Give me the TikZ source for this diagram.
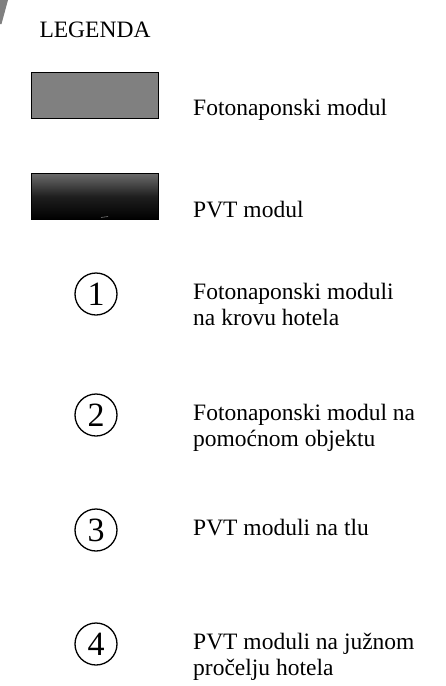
\documentclass[tikz,border=0pt]{standalone}
\usepackage{fontspec}
\setmainfont{Liberation Serif}
\usetikzlibrary{positioning}

\tikzset{
	legtext/.style={anchor=north west, align=left, inner sep=0pt, font=\fontsize{23.5}{25.5}\selectfont},
	modulbox/.style={draw=black, line width=1.8pt, minimum width=127pt, minimum height=46pt, inner sep=0pt, anchor=north west},
	brojkrug/.style={circle, draw=black, line width=1.3pt, minimum size=42pt, inner sep=0pt, font=\fontsize{34}{34}\selectfont}
}

\begin{document}
\begin{tikzpicture}[x=1pt,y=-1pt]
		\useasboundingbox (0,0) rectangle (445,686);
		%ostatak slike lijevo gore
		\fill[gray] (0,0) -- (8,0) -- (1.5,24) -- (0,24) -- cycle;
		
		\node[anchor=base, inner sep=0pt, font=\fontsize{23.5}{25.5}\selectfont] (naslov) at (95,37) {LEGENDA};
		
		%moduli
		\node[modulbox, fill=gray] (fn) at (30.5,71.5) {};
		\node[legtext] (fntxt) at (193,99) {Fotonaponski modul};
		\node[modulbox, top color=black!58, bottom color=black, middle color=black!88] (pvt) at (30.5,172.5) {};
		\draw[black!55, line width=0.6pt] (101,217.5) -- (108,216.5);
		\node[legtext] (pvttxt) at (193,201) {PVT modul};
		
		%oznake
		\foreach \n/\y/\tekst in {1/294/{Fotonaponski moduli\\na krovu hotela},
				2/415/{Fotonaponski modul na\\pomo\'cnom objektu},
				3/530/{PVT moduli na tlu},
				4/644/{PVT moduli na ju\v{z}nom\\pro\v{c}elju hotela}}{
			\node[brojkrug] (k\n) at (96,\y) {\n};
			\node[legtext] (t\n) at (193,\y-11) {\tekst};
		}
		
\end{tikzpicture}
\end{document}
